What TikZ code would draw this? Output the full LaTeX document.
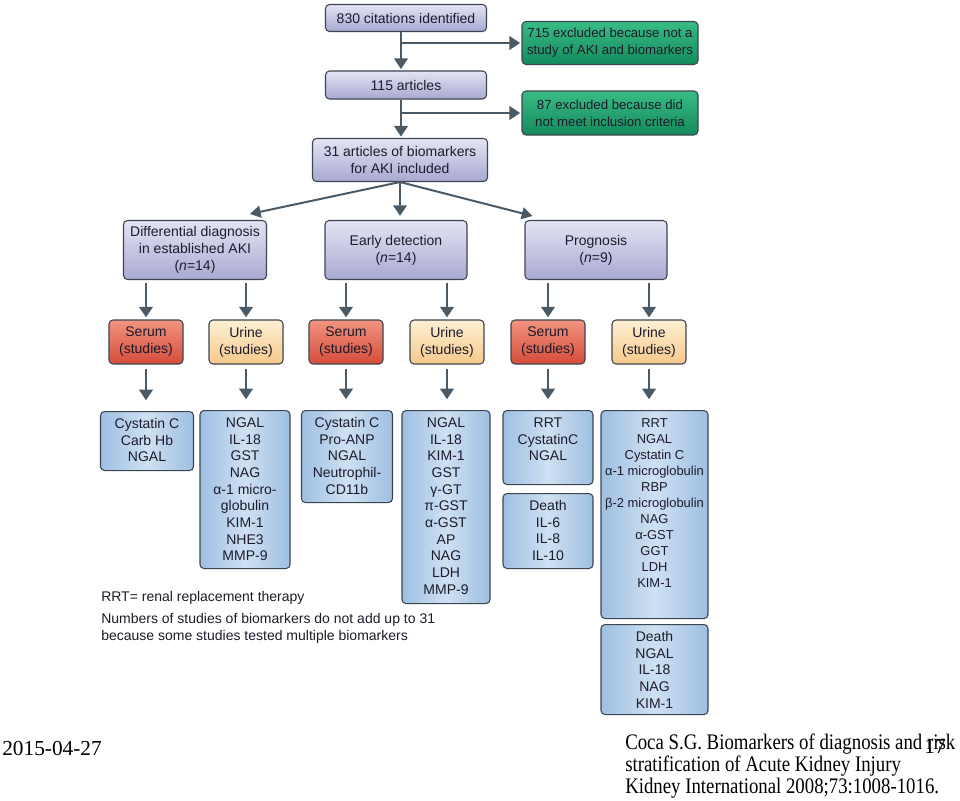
\documentclass[tikz,border=0pt]{standalone}
\usepackage{fontspec}
\setmainfont{Liberation Sans}
\newfontfamily\citefont{Liberation Serif}
\usetikzlibrary{arrows.meta,calc}

\newdimen\pxd \pxd=0.75pt
\definecolor{edgegray}{HTML}{3C4650}
\definecolor{arrowgray}{HTML}{4A5A66}
\definecolor{inktext}{HTML}{1C1C2C}
\definecolor{lavtop}{HTML}{E4E4F4}
\definecolor{lavbot}{HTML}{A8A8D2}
\definecolor{greentop}{HTML}{38BC84}
\definecolor{greenbot}{HTML}{148A5C}
\definecolor{serumtop}{HTML}{F29480}
\definecolor{serumbot}{HTML}{D64C3A}
\definecolor{urinetop}{HTML}{FDEFD2}
\definecolor{urinebot}{HTML}{F6C98C}
\definecolor{listside}{HTML}{9EBFE2}
\definecolor{listmid}{HTML}{CFE0F2}
% list text at the top of a box of fixed size
\newcommand\blist[3]{\parbox[c][#2][t]{#1}{\centering\rule{0pt}{12.75pt}#3}}

\begin{document}
\begin{tikzpicture}[x=0.75pt,y=-0.75pt,
	font=\fontsize{10.5}{12.75}\selectfont,
	box/.style={draw=edgegray,line width=0.8pt,rounded corners=3pt,align=center,
		inner sep=0pt,text=inktext},
	mainbox/.style={box,top color=lavtop,bottom color=lavbot},
	greenbox/.style={box,top color=greentop,bottom color=greenbot,font=\fontsize{9.9}{12.75}\selectfont},
	serum/.style={box,top color=serumtop,bottom color=serumbot,minimum width=74\pxd,minimum height=44\pxd},
	urine/.style={box,top color=urinetop,bottom color=urinebot,minimum width=74\pxd,minimum height=44\pxd},
	listbox/.style={box,anchor=north,left color=listside,right color=listside,middle color=listmid,
		font=\fontsize{10.5}{12.5}\selectfont},
	arr/.style={draw=arrowgray,line width=2.2pt,-{Triangle[length=8pt,width=10pt]}},
	fan/.style={draw=arrowgray,line width=1.5pt,-{Triangle[length=8pt,width=9pt]}}]
	\useasboundingbox[fill=white] (0,0) rectangle (960,800);

	% top of the flow
	\node[mainbox,minimum width=161\pxd,minimum height=27\pxd] (cit) at (406,18) {830 citations identified};
	\node[greenbox,minimum width=176\pxd,minimum height=43\pxd] (exa) at (610,43) {715 excluded because not a\\study of AKI and biomarkers};
	\node[mainbox,minimum width=161\pxd,minimum height=28\pxd] (art) at (406,85) {115 articles};
	\node[greenbox,minimum width=176\pxd,minimum height=44\pxd] (exb) at (610,113) {87 excluded because did\\not meet inclusion criteria};
	\node[mainbox,minimum width=175\pxd,minimum height=43\pxd] (inc) at (400,160) {31 articles of biomarkers\\for AKI included};

	\coordinate (stem) at (401,0);
	\draw[arr,shorten >=1pt] (cit.south -| stem) -- (art.north -| stem);
	\draw[arr,line width=1.9pt,shorten >=1pt] (stem |- exa.west) -- (exa.west);
	\draw[arr,shorten >=1pt] (art.south -| stem) -- (inc.north -| stem);
	\draw[arr,line width=1.9pt,shorten >=1pt] (stem |- exb.west) -- (exb.west);

	% three groups
	\node[mainbox,minimum width=143\pxd,minimum height=59\pxd] (dd) at (195,250) {Differential diagnosis\\in established AKI\\(\textit{n}=14)};
	\node[mainbox,minimum width=142\pxd,minimum height=59\pxd] (ed) at (396,250) {Early detection\\(\textit{n}=14)};
	\node[mainbox,minimum width=142\pxd,minimum height=59\pxd] (pg) at (596,250) {Prognosis\\(\textit{n}=9)};

	\draw[fan] (inc.south) -- ($(dd.north)+(55,-6)$);
	\draw[arr,shorten >=3pt] (inc.south) -- (inc.south |- ed.north);
	\draw[fan] (inc.south) -- ($(pg.north west)+(8,-4)$);

	% serum and urine
	\node[serum] (s1) at (146,342) {Serum\\(studies)};
	\node[urine] (u1) at (246,342) {Urine\\(studies)};
	\node[serum] (s2) at (346,342) {Serum\\(studies)};
	\node[urine] (u2) at (447,342) {Urine\\(studies)};
	\node[serum] (s3) at (548,342) {Serum\\(studies)};
	\node[urine] (u3) at (649,342) {Urine\\(studies)};

	\foreach \grp/\a/\b in {dd/s1/u1,ed/s2/u2,pg/s3/u3} {
		\draw[arr,shorten <=2pt,shorten >=1.5pt] (\grp.south -| \a.north) -- (\a.north);
		\draw[arr,shorten <=2pt,shorten >=1.5pt] (\grp.south -| \b.north) -- (\b.north);
	}

	% biomarker lists
	\node[listbox] (l1) at (147,411) {\blist{93\pxd}{59\pxd}{Cystatin C\\Carb Hb\\NGAL}};
	\node[listbox] (l2) at (245,410) {\blist{90\pxd}{158\pxd}{NGAL\\IL-18\\GST\\NAG\\α-1 micro-\\globulin\\KIM-1\\NHE3\\MMP-9}};
	\node[listbox] (l3) at (347,410) {\blist{91\pxd}{92\pxd}{Cystatin C\\Pro-ANP\\NGAL\\Neutrophil-\\CD11b}};
	\node[listbox] (l4) at (446,410) {\blist{88\pxd}{193\pxd}{NGAL\\IL-18\\KIM-1\\GST\\γ-GT\\π-GST\\α-GST\\AP\\NAG\\LDH\\MMP-9}};
	\node[listbox] (l5) at (548,410) {\blist{90\pxd}{74\pxd}{RRT\\CystatinC\\NGAL}};
	\node[listbox] (l5d) at (548,493) {\blist{90\pxd}{75\pxd}{Death\\IL-6\\IL-8\\IL-10}};
	\node[listbox,font=\fontsize{9.7}{12}\selectfont] (l6) at (654.5,410) {\blist{107\pxd}{208\pxd}{RRT\\NGAL\\Cystatin C\\α-1 microglobulin\\RBP\\β-2 microglobulin\\NAG\\α-GST\\GGT\\LDH\\KIM-1}};
	\node[listbox] (l6d) at (654.5,624) {\blist{107\pxd}{90\pxd}{Death\\NGAL\\IL-18\\NAG\\KIM-1}};

	\foreach \a/\l in {s1/l1,u1/l2,s2/l3,u2/l4,s3/l5,u3/l6} {
		\draw[arr,shorten <=3pt,shorten >=8pt] (\a.south) -- (\a.south |- \l.north);
	}

	% notes
	\node[anchor=west,inner sep=0pt,text=inktext] (rrt) at (101,598) {RRT= renal replacement therapy};
	\node[anchor=north west,inner sep=0pt,align=left,text=inktext] (sum) at (101,613) {Numbers of studies of biomarkers do not add up to 31\\because some studies tested multiple biomarkers};

	% footer
	\node[anchor=west,inner sep=0pt,font=\citefont\fontsize{16}{18}\selectfont] (date) at (2,748) {2015-04-27};
	\node[anchor=north west,inner sep=0pt,font=\citefont\fontsize{14.1}{13.8}\selectfont] (cite) at (625,734) {\scalebox{1}[1.18]{\parbox[t]{300pt}{\raggedright Coca S.G. Biomarkers of diagnosis and risk\\stratification of Acute Kidney Injury\\Kidney International 2008;73:1008-1016.}}};
	\node[inner sep=0pt,font=\citefont\fontsize{16}{18}\selectfont] (page) at (935,746) {17};
\end{tikzpicture}
\end{document}
